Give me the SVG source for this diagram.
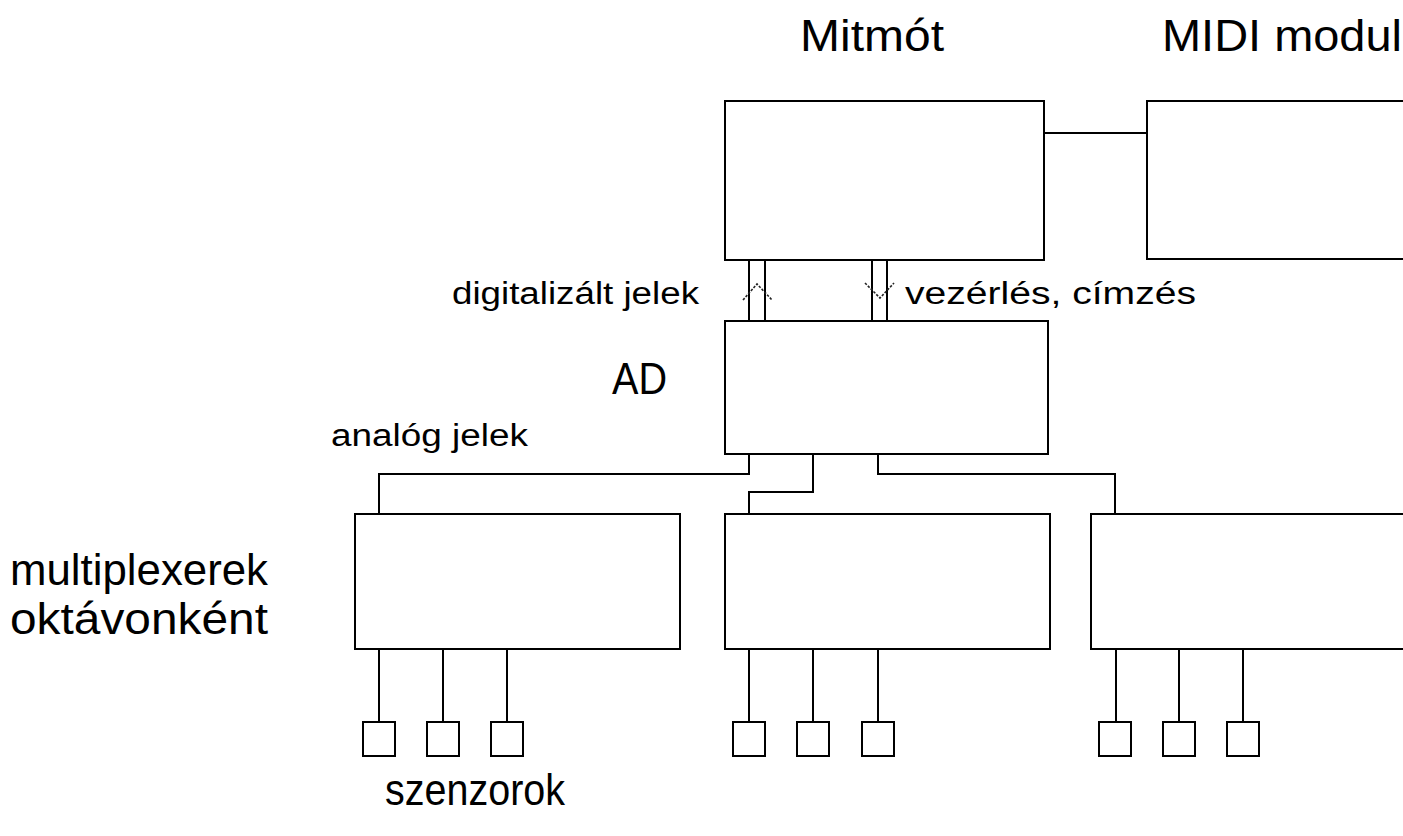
<svg xmlns="http://www.w3.org/2000/svg" width="1403" height="836" viewBox="0 0 1403 836">
<style>
.box{fill:#fff;stroke:#000;stroke-width:2}
.ln{fill:none;stroke:#000;stroke-width:2}
.ch{fill:none;stroke:#222;stroke-width:1.6;stroke-dasharray:2.5 1.5}
.big{font-family:"Liberation Sans",Arial,sans-serif;font-size:44px;fill:#000}
.sm{font-family:"Liberation Sans",Arial,sans-serif;font-size:31px;fill:#000}
</style>
<rect width="1403" height="836" fill="#fff"/>
<g id="connectors">
<path class="ln" d="M1044 133H1147"/>
<path class="ln" d="M749 260V321M765 260V321M872 260V321M887 260V321"/>
<path class="ch" d="M743 300L757 284L772 300"/>
<path class="ch" d="M865 283L880 298L894 283"/>
<path class="ln" d="M749 454V474H379V514"/>
<path class="ln" d="M813 454V492H749V514"/>
<path class="ln" d="M878 454V474H1115V514"/>
<path class="ln" d="M379 649V722M443 649V722M507 649V722"/>
<path class="ln" d="M749 649V722M813 649V722M878 649V722"/>
<path class="ln" d="M1116 649V722M1179 649V722M1243 649V722"/>
</g>
<g id="mitmot"><rect class="box" x="725" y="101" width="319" height="159"/><text class="big" x="800" y="51" textLength="144" lengthAdjust="spacingAndGlyphs">Mitmót</text></g>
<g id="midi"><rect class="box" x="1147" y="101" width="270" height="158"/><text class="big" x="1162" y="51" textLength="240" lengthAdjust="spacingAndGlyphs">MIDI modul</text></g>
<g id="ad"><rect class="box" x="725" y="321" width="323" height="133"/><text class="big" x="612" y="394" textLength="55" lengthAdjust="spacingAndGlyphs">AD</text></g>
<g id="mux1"><rect class="box" x="355" y="514" width="325" height="135"/></g>
<g id="mux2"><rect class="box" x="725" y="514" width="325" height="135"/></g>
<g id="mux3"><rect class="box" x="1091" y="514" width="330" height="135"/></g>
<g id="s1"><rect class="box" x="363" y="722" width="32" height="34"/></g>
<g id="s2"><rect class="box" x="427" y="722" width="32" height="34"/></g>
<g id="s3"><rect class="box" x="491" y="722" width="32" height="34"/></g>
<g id="s4"><rect class="box" x="733" y="722" width="32" height="34"/></g>
<g id="s5"><rect class="box" x="797" y="722" width="32" height="34"/></g>
<g id="s6"><rect class="box" x="862" y="722" width="32" height="34"/></g>
<g id="s7"><rect class="box" x="1099" y="722" width="32" height="34"/></g>
<g id="s8"><rect class="box" x="1163" y="722" width="32" height="34"/></g>
<g id="s9"><rect class="box" x="1227" y="722" width="32" height="34"/></g>
<g id="labels">
<text class="sm" x="452" y="304" textLength="247" lengthAdjust="spacingAndGlyphs">digitalizált jelek</text>
<text class="sm" x="905" y="304" textLength="291" lengthAdjust="spacingAndGlyphs">vezérlés, címzés</text>
<text class="sm" x="331" y="446" textLength="197" lengthAdjust="spacingAndGlyphs">analóg jelek</text>
<text class="big" x="10" y="585" textLength="258" lengthAdjust="spacingAndGlyphs">multiplexerek</text>
<text class="big" x="10" y="634" textLength="258" lengthAdjust="spacingAndGlyphs">oktávonként</text>
<text class="big" x="385" y="805" textLength="180" lengthAdjust="spacingAndGlyphs">szenzorok</text>
</g>
</svg>
